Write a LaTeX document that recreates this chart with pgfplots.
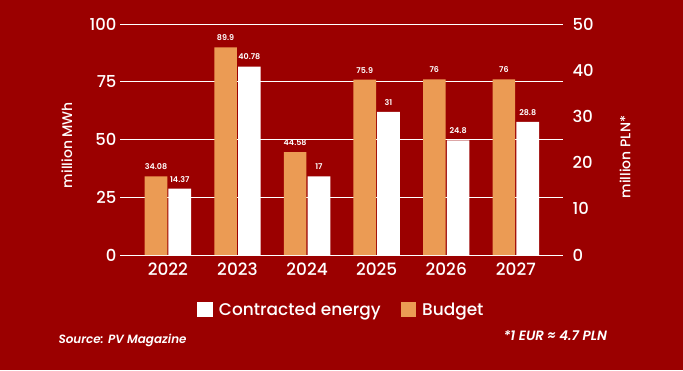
\documentclass[border=0pt]{standalone}
\usepackage{pgfplots}
\pgfplotsset{compat=1.18}
\usepackage{fontspec}
\setmainfont{Poppins Medium}[BoldFont={Poppins SemiBold}, ItalicFont={Poppins SemiBold Italic}, BoldItalicFont={Poppins Bold Italic}]
\definecolor{bg}{RGB}{155,0,0}
\definecolor{orng}{RGB}{235,155,84}
\begin{document}
\begin{tikzpicture}[x=1bp,y=1bp]
\fill[bg] (0,0) rectangle (683,370);
\useasboundingbox (0,0) rectangle (683,370);
\begin{axis}[
  at={(120bp,115bp)}, anchor=south west,
  scale only axis, width=443bp, height=231bp,
  ybar,
  xmin=-0.688, xmax=5.678, ymin=0, ymax=100,
  ytick={0,25,50,75,100},
  xtick={0,1,2,3,4,5}, xticklabels={2022,2023,2024,2025,2026,2027},
  axis line style={draw=none}, major tick style={draw=none},
  ymajorgrids, grid style={white, line width=0.9bp},
  ticklabel style={text=white, font=\fontsize{16.5}{16.5}\selectfont},
  xticklabel style={font=\fontsize{17}{17}\selectfont},
  /pgf/number format/assume math mode=true,
  ylabel={million MWh},
  ylabel style={text=white, font=\fontsize{14}{14}\selectfont, at={(axis description cs:-0.12,0.476)}, anchor=center},
  clip=false,
]
\addplot[bar width=0.325, bar shift=-0.171, fill=orng, draw=none,
  nodes near coords,
  every node near coord/.append style={text=white, font=\fontsize{8}{8}\selectfont\bfseries, yshift=3bp}]
  coordinates {(0,34.08) (1,89.9) (2,44.58) (3,75.9) (4,76) (5,76)};
\end{axis}
\begin{axis}[
  at={(120bp,115bp)}, anchor=south west,
  scale only axis, width=443bp, height=231bp,
  ybar,
  xmin=-0.688, xmax=5.678, ymin=0, ymax=50,
  axis y line*=right, hide x axis,
  ytick={0,10,20,30,40,50},
  axis line style={draw=none}, major tick style={draw=none},
  yticklabel style={text=white, font=\fontsize{16.5}{16.5}\selectfont, xshift=6bp},
  /pgf/number format/assume math mode=true,
  ylabel={million PLN*},
  ylabel style={text=white, font=\fontsize{14}{14}\selectfont, at={(axis description cs:1.14,0.424)}, anchor=center},
  clip=false,
  legend image code/.code={\fill[#1] (0bp,-7.5bp) rectangle (15.5bp,7.5bp);},
  legend style={at={(0.5,-0.238)}, anchor=center, draw=none, fill=none, text=white,
    font=\fontsize{17}{17}\selectfont, legend columns=2,
    /tikz/every odd column/.append style={column sep=4bp},
    /tikz/every even column/.append style={column sep=18bp}},
]
\addplot[bar width=0.325, bar shift=0.171, fill=white, draw=none,
  nodes near coords,
  every node near coord/.append style={text=white, font=\fontsize{8}{8}\selectfont\bfseries, yshift=3bp}]
  coordinates {(0,14.37) (1,40.78) (2,17) (3,31) (4,24.8) (5,28.8)};
\addlegendentry{Contracted energy}
\addlegendimage{fill=orng, draw=none}
\addlegendentry{Budget}
\end{axis}
\node[anchor=west, text=white, font=\fontsize{12}{12}\selectfont\itshape] at (55,30) {Source: PV Magazine};
\node[anchor=west, text=white, font=\fontsize{13.5}{14}\selectfont\itshape] at (500,34) {*1 EUR ≈ 4.7 PLN};
\end{tikzpicture}
\end{document}
